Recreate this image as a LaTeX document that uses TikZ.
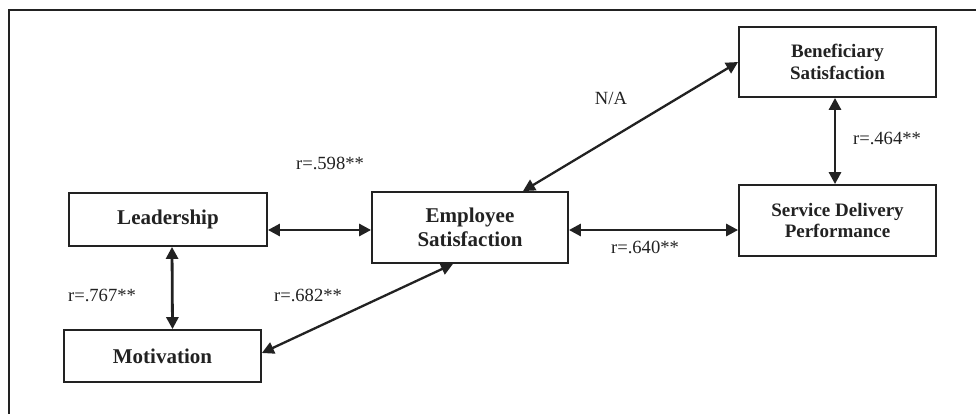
\documentclass[tikz,border=0pt]{standalone}
\usepackage{fontspec}
\setmainfont{Liberation Serif}
\usetikzlibrary{arrows.meta}
\definecolor{ink}{HTML}{222222}
\tikzset{
  box/.style={draw=ink, line width=1.8pt, minimum height=#1, inner sep=0pt, align=center, text=ink, font=\bfseries\fontsize{21}{24}\selectfont},
  boxs/.style={box=#1, font=\bfseries\fontsize{19}{21.7}\selectfont},
  rel/.style={draw=ink, line width=2.8pt, {Triangle[length=12pt,width=12pt]}-{Triangle[length=12pt,width=12pt]}},
  reld/.style={rel, line width=2.3pt},
  lab/.style={text=ink, font=\fontsize{18.6}{21}\selectfont, inner sep=0pt}
}
\begin{document}
\begin{tikzpicture}[x=1pt, y=-1pt]
\useasboundingbox[fill=white] (0,0) rectangle (976,413);
\draw[ink, line width=2.2pt] (9,420) -- (9,10) -- (985,10);
\node[box=53pt, minimum width=198pt] (lead) at (168,219.5) {Leadership};
\node[box=52pt, minimum width=197pt] (mot) at (162.5,356) {Motivation};
\node[box=71pt, minimum width=196pt] (emp) at (470,227.5) {Employee\\Satisfaction};
\node[boxs=70pt, minimum width=197pt] (ben) at (837.5,62) {Beneficiary\\Satisfaction};
\node[boxs=71pt, minimum width=197pt] (sdp) at (837.5,220.5) {Service Delivery\\Performance};
\draw[rel] ([yshift=-10.5pt]lead.east) -- ([yshift=-2.5pt]emp.west);
\draw[rel] ([yshift=-2.5pt]emp.east) -- ([yshift=-9.5pt]sdp.west);
\draw[rel] ([xshift=-2.5pt]ben.south) -- ([xshift=-2.5pt]sdp.north);
\draw[rel] ([xshift=4pt]lead.south) -- ([xshift=10pt]mot.north);
\draw[reld] ([yshift=3pt]mot.east) -- ([xshift=-17pt]emp.south);
\draw[reld] ([xshift=53pt]emp.north) -- (ben.west);
\node[lab] (l1) at (330,163) {r=.598**};
\node[lab] (l2) at (611,98) {N/A};
\node[lab] (l3) at (887,138) {r=.464**};
\node[lab] (l4) at (645,247) {r=.640**};
\node[lab] (l5) at (102,295) {r=.767**};
\node[lab] (l6) at (308,295) {r=.682**};
\end{tikzpicture}
\end{document}
